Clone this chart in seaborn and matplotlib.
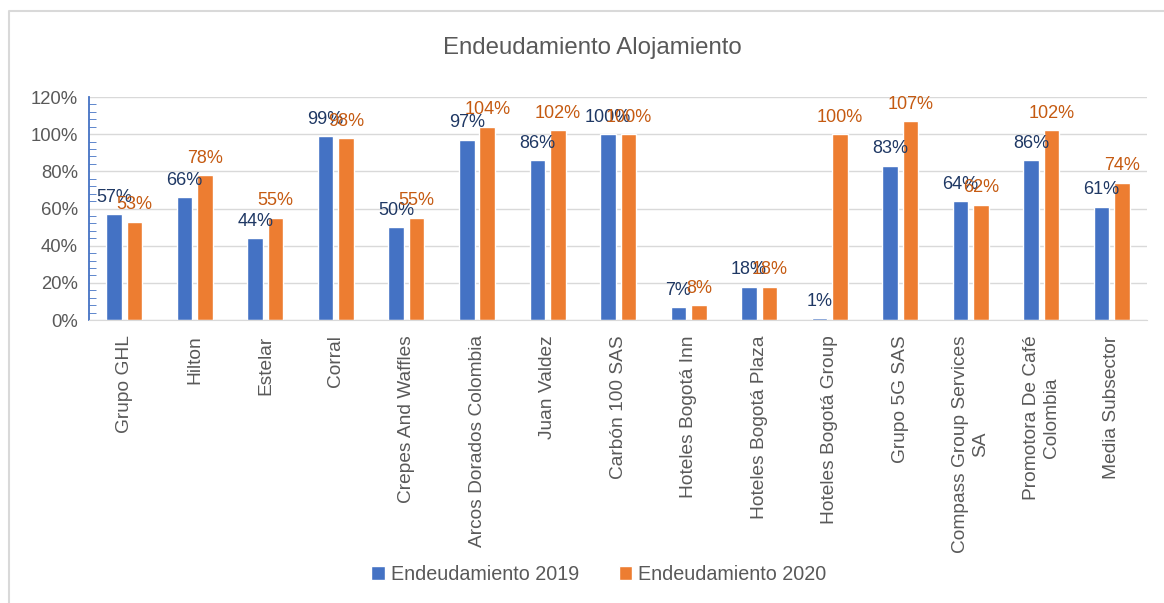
import pandas as pd
import numpy as np
import matplotlib
matplotlib.use("Agg")
import matplotlib.pyplot as plt
import seaborn as sns
from matplotlib.ticker import PercentFormatter, MultipleLocator
from matplotlib.lines import Line2D

# ----------------------------
# Data
# ----------------------------
empresas = ["Grupo GHL", "Hilton", "Estelar", "Corral", "Crepes And Waffles",
            "Arcos Dorados Colombia", "Juan Valdez", "Carbón 100 SAS",
            "Hoteles Bogotá Inn", "Hoteles Bogotá Plaza", "Hoteles Bogotá Group",
            "Grupo 5G SAS", "Compass Group Services\nSA",
            "Promotora De Café\nColombia", "Media Subsector"]
end_2019 = [57, 66, 44, 99, 50, 97, 86, 100, 7, 18, 1, 83, 64, 86, 61]
end_2020 = [53, 78, 55, 98, 55, 104, 102, 100, 8, 18, 100, 107, 62, 102, 74]
series = ["Endeudamiento 2019", "Endeudamiento 2020"]

bar_colors = ["#4472C4", "#ED7D31"]
label_colors = ["#1F3864", "#C55A11"]
txt_gray = "#595959"

df = pd.DataFrame({
    "empresa": empresas * 2,
    "valor": end_2019 + end_2020,
    "serie": [series[0]] * len(empresas) + [series[1]] * len(empresas),
})

# ----------------------------
# Plot
# ----------------------------
sns.set_style("white")
plt.rcParams["font.family"] = ["Liberation Sans", "DejaVu Sans"]

fig = plt.figure(figsize=(11.64, 6.03), dpi=100)
ax = fig.add_axes([0.0765, 0.4693, 0.909, 0.3698])

sns.barplot(data=df, x="empresa", y="valor", hue="serie", order=empresas,
            hue_order=series, palette=bar_colors, saturation=1,
            width=0.58, gap=0.24, ax=ax)

# data labels (they overlap in the original too)
for cont, col in zip(ax.containers, label_colors):
    for bar in cont:
        h = bar.get_height()
        ax.annotate(f"{h:.0f}%", (bar.get_x() + bar.get_width() / 2, h),
                    xytext=(0, 6), textcoords="offset points",
                    ha="center", va="bottom", fontsize=13, color=col)

ax.set_ylim(0, 120)
ax.yaxis.set_major_locator(MultipleLocator(20))
ax.yaxis.set_minor_locator(MultipleLocator(4))
ax.yaxis.set_major_formatter(PercentFormatter(100, decimals=0))
ax.grid(axis="y", color="#D9D9D9", lw=1)
ax.set_axisbelow(True)

ax.set_xlabel("")
ax.set_ylabel("")
ax.tick_params(axis="y", which="major", direction="inout", length=10,
               color="#4472C4", labelsize=13.3, labelcolor=txt_gray, pad=3)
ax.tick_params(axis="y", which="minor", direction="in", length=5,
               color="#4472C4", left=True)
ax.tick_params(axis="x", length=0, labelsize=13.8, labelcolor=txt_gray, pad=11)
plt.setp(ax.get_xticklabels(), rotation=90, ha="center", va="top",
         multialignment="center")

for s in ["top", "right"]:
    ax.spines[s].set_visible(False)
ax.spines["left"].set_color("#4472C4")
ax.spines["left"].set_linewidth(1.3)
ax.spines["bottom"].set_color("#D9D9D9")

# title
fig.text(592 / 1164, 1 - 48 / 603, "Endeudamiento Alojamiento",
         ha="center", va="center", fontsize=17.3, color=txt_gray)

# legend
handles, labels = ax.get_legend_handles_labels()
ax.get_legend().remove()
fig.legend(handles, labels, loc="center", bbox_to_anchor=(599 / 1164, 1 - 574 / 603),
           ncol=2, frameon=False, fontsize=14.2, labelcolor=txt_gray,
           handlelength=0.7, handleheight=0.7, handletextpad=0.3, columnspacing=2.0)

# chart border (left and top edges visible)
fig.add_artist(Line2D([9 / 1164, 9 / 1164, 1.0], [0.0, 1 - 11 / 603, 1 - 11 / 603],
                      transform=fig.transFigure, color="#D9D9D9", lw=1.5))

plt.savefig("out.png", dpi=100)
plt.close()
